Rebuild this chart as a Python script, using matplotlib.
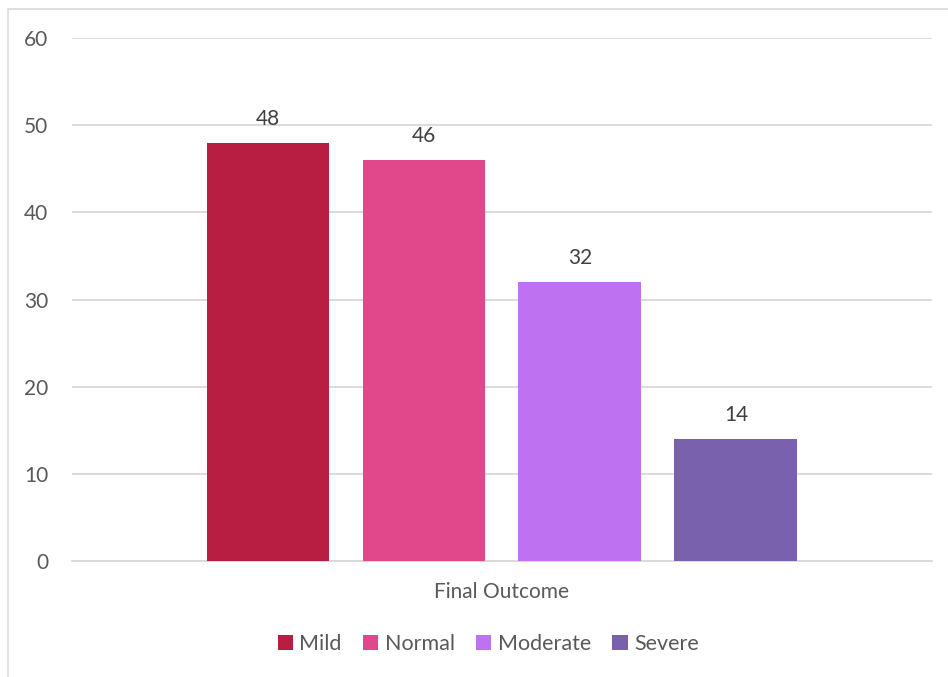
import matplotlib.pyplot as plt
from matplotlib.patches import Rectangle
import numpy as np

# Data
category = 'Final Outcome'
series = ['Mild', 'Normal', 'Moderate', 'Severe']
values = [48, 46, 32, 14]
colors = ['#B71E42', '#E0488B', '#BE71F0', '#7961AE']

plt.rcParams['font.family'] = ['Lato', 'DejaVu Sans']
text_color = '#595959'

fig = plt.figure(figsize=(9.48, 6.77), dpi=100)
ax = fig.add_axes([0.076, 0.1713, 0.907, 0.7726])

# Outer chart border
fig.patches.append(Rectangle((8 / 948, -0.01), 1.0, 1 - 9 / 677 + 0.01,
                             transform=fig.transFigure, fill=False,
                             edgecolor='#D9D9D9', linewidth=1.2))

spacing = 0.1814
width = 0.143
offsets = (np.arange(len(series)) - 1.5) * spacing
for off, val, col, name in zip(offsets, values, colors, series):
    ax.bar(off, val, width=width, color=col, label=name, zorder=3)
    ax.text(off, val + 1.6, str(val), ha='center', va='bottom',
            fontsize=15, color='#404040')

ax.set_xlim(-0.5, 0.5)
ax.set_ylim(0, 60)
ax.set_yticks(range(0, 61, 10))
ax.yaxis.grid(True, color='#D9D9D9', linewidth=1.3, zorder=0)
ax.set_xticks([0])
ax.set_xticklabels([category])
ax.tick_params(axis='both', length=0, labelsize=15, colors=text_color)
ax.tick_params(axis='x', pad=15)
ax.tick_params(axis='y', pad=17)
for s in ['top', 'right', 'left']:
    ax.spines[s].set_visible(False)
ax.spines['bottom'].set_color('#D9D9D9')
ax.spines['bottom'].set_linewidth(1.3)

leg = fig.legend(loc='center', bbox_to_anchor=(0.515, 0.049), ncol=4,
                 frameon=False, fontsize=15.5, handlelength=0.7,
                 handleheight=0.7, handletextpad=0.3, columnspacing=1.0)
for t in leg.get_texts():
    t.set_color(text_color)

fig.savefig('out.png', dpi=100)
